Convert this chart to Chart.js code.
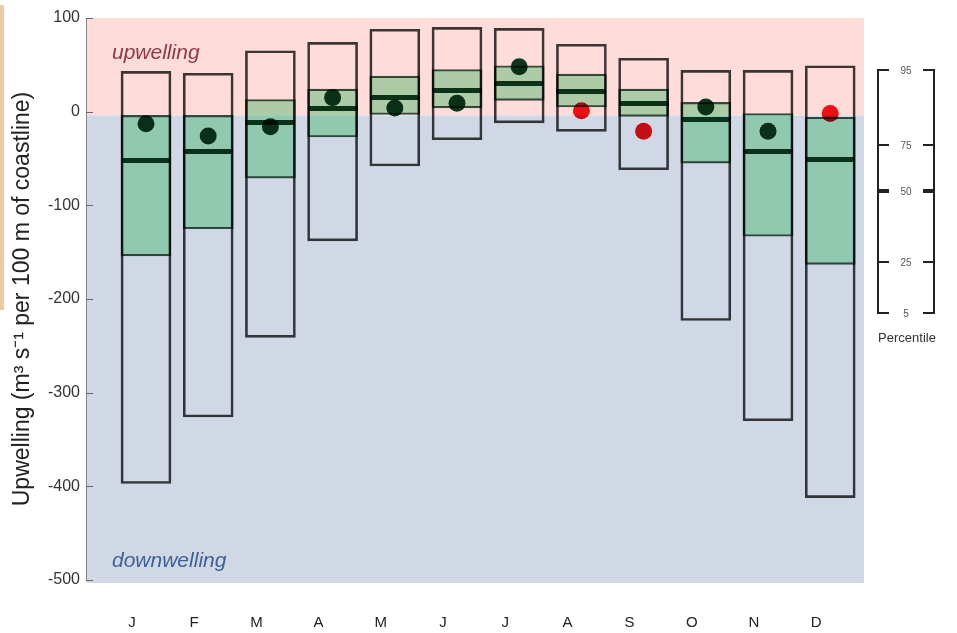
<!DOCTYPE html>
<html>
<head>
<meta charset="utf-8">
<script src="https://cdn.jsdelivr.net/npm/chart.js@4.4.0/dist/chart.umd.min.js"></script>
<style>
  body { margin: 0; background: #fff; }
  canvas { display: block; }
</style>
</head>
<body>
<canvas id="upwellingChart" width="957" height="633"></canvas>
<script>
const months = ["J", "F", "M", "A", "M", "J", "J", "A", "S", "O", "N", "D"];
const p95 = [43, 41, 65, 74, 88, 90, 89, 72, 57, 44, 44, 49];
const p75 = [-4, -4, 13, 24, 38, 45, 49, 40, 24, 10, -2, -6];
const p50 = [-52, -42, -12, 3, 15, 23, 30, 22, 9, -8, -43, -51];
const p25 = [-154, -125, -71, -27, -3, 4, 12, 5, -5, -55, -133, -163];
const p5 = [-397, -326, -241, -138, -58, -30, -12, -21, -62, -223, -330, -412];
const thisYear = [-13, -26, -16, 15, 4, 9, 48, 1, -21, 5, -21, -2];
const isRed = [false, false, false, false, false, false, false, true, true, false, false, true];
const yTicks = [100, 0, -100, -200, -300, -400, -500];
const splitValue = -4; // pink/blue boundary
const percentileLabels = ["95", "75", "50", "25", "5"];

const FONT = "'Liberation Sans', Arial, sans-serif";

function pts(arr) {
    return arr.map((v, i) => ({x: i, y: v}));
}
function range(lo, hi) {
    return lo.map((v, i) => ({x: i, y: [v, hi[i]]}));
}

// median marker: a short thick bar as an image so it doesn't inflate layout padding
const medianMark = document.createElement('canvas');
medianMark.width = 50;
medianMark.height = 5;
const mctx = medianMark.getContext('2d');
mctx.fillStyle = '#0e4024';
mctx.fillRect(0, 0, 50, 5);

// background, tan strip, labels
const bgPlugin = {
    id: 'bgPlugin',
    beforeDraw(chart) {
        const ctx = chart.ctx;
        const a = chart.chartArea;
        const ySplit = chart.scales.y.getPixelForValue(splitValue);
        ctx.save();
        ctx.fillStyle = '#edcaa2';
        ctx.fillRect(0, 5, 4, 305);
        ctx.fillStyle = '#fddcd9';
        ctx.fillRect(a.left, a.top, a.right - a.left, ySplit - a.top);
        ctx.fillStyle = '#d1d8e5';
        ctx.fillRect(a.left, ySplit, a.right - a.left, a.bottom + 3 - ySplit);

        ctx.font = 'italic 21px ' + FONT;
        ctx.textAlign = 'left';
        ctx.textBaseline = 'middle';
        ctx.fillStyle = '#8e3a44';
        ctx.fillText('upwelling', a.left + 26, a.top + 35);
        ctx.fillStyle = '#3d5f94';
        ctx.fillText('downwelling', a.left + 26, a.bottom - 19);
        ctx.restore();
    },
    // every mark is blended onto the coloured background
    beforeDatasetDraw(chart) {
        chart.ctx.save();
        chart.ctx.globalCompositeOperation = 'multiply';
    },
    afterDatasetDraw(chart) {
        chart.ctx.restore();
    },
    afterDraw(chart) {
        const ctx = chart.ctx;
        const a = chart.chartArea;
        const ys = chart.scales.y;
        ctx.save();
        // inward tick marks
        ctx.strokeStyle = '#666';
        ctx.lineWidth = 1;
        ys.ticks.forEach(t => {
            const py = Math.round(ys.getPixelForValue(t.value)) + 0.5;
            ctx.beginPath();
            ctx.moveTo(a.left, py);
            ctx.lineTo(a.left + 7, py);
            ctx.stroke();
        });

        // percentile key
        const lx = a.right + 14, rx = a.right + 70, cx = (lx + rx) / 2;
        const ky = [a.top + 52, a.top + 127, a.top + 173, a.top + 244, a.top + 295];
        ctx.strokeStyle = '#222';
        ctx.lineWidth = 2;
        ctx.beginPath();
        ctx.moveTo(lx + 11, ky[0]); ctx.lineTo(lx, ky[0]); ctx.lineTo(lx, ky[4]); ctx.lineTo(lx + 11, ky[4]);
        ctx.moveTo(rx - 11, ky[0]); ctx.lineTo(rx, ky[0]); ctx.lineTo(rx, ky[4]); ctx.lineTo(rx - 11, ky[4]);
        ctx.stroke();
        for (let i = 1; i < 4; i++) {
            ctx.lineWidth = i === 2 ? 4 : 2;
            ctx.beginPath();
            ctx.moveTo(lx, ky[i]); ctx.lineTo(lx + 11, ky[i]);
            ctx.moveTo(rx - 11, ky[i]); ctx.lineTo(rx, ky[i]);
            ctx.stroke();
        }
        ctx.fillStyle = '#555';
        ctx.font = '10px ' + FONT;
        ctx.textAlign = 'center';
        ctx.textBaseline = 'middle';
        percentileLabels.forEach((t, i) => ctx.fillText(t, cx, ky[i] + 1));
        ctx.fillStyle = '#333';
        ctx.font = '13px ' + FONT;
        ctx.fillText('Percentile', cx + 1, a.top + 320);
        ctx.restore();
    }
};

const ctx = document.getElementById('upwellingChart').getContext('2d');
new Chart(ctx, {
    type: 'bar',
    data: {
        datasets: [
            {
                type: 'line',
                label: 'This year',
                data: pts(thisYear),
                showLine: false,
                pointRadius: 8.5,
                pointHoverRadius: 8.5,
                pointBackgroundColor: isRed.map(r => r ? '#f01018' : '#0e3d23'),
                pointBorderWidth: 0,
                order: 0
            },
            {
                type: 'line',
                label: 'Median',
                data: pts(p50),
                showLine: false,
                pointStyle: medianMark,
                pointRadius: 2,
                pointHoverRadius: 2,
                pointBorderWidth: 0,
                order: 1
            },
            {
                label: '5-95',
                data: range(p5, p95),
                backgroundColor: 'rgba(0,0,0,0)',
                borderColor: '#3d3d3d',
                borderWidth: 2,
                borderSkipped: false,
                barThickness: 50,
                grouped: false,
                order: 2
            },
            {
                label: 'IQR',
                data: range(p25, p75),
                backgroundColor: '#b0ecc4',
                borderColor: '#3a5446',
                borderWidth: 1.5,
                borderSkipped: false,
                barThickness: 50,
                grouped: false,
                order: 3
            }
        ]
    },
    options: {
        responsive: false,
        animation: false,
        events: [],
        layout: {padding: {top: 18, right: 93, bottom: 0, left: 0}},
        plugins: {
            legend: {display: false},
            tooltip: {enabled: false}
        },
        scales: {
            x: {
                type: 'linear',
                offset: false,
                min: -0.9646,
                max: 11.543,
                afterFit(s) { s.height = 53; },
                afterBuildTicks(s) { s.ticks = months.map((m, i) => ({value: i})); },
                grid: {display: false, drawTicks: false},
                border: {display: false},
                ticks: {
                    autoSkip: false,
                    maxRotation: 0,
                    padding: 34,
                    labelOffset: -14,
                    color: '#222',
                    font: {family: FONT, size: 15},
                    callback: (v) => months[v]
                }
            },
            y: {
                min: -500,
                max: 100,
                afterFit(s) { s.width = 86; },
                afterBuildTicks(s) { s.ticks = yTicks.map(v => ({value: v})); },
                grid: {drawOnChartArea: false, drawTicks: false},
                border: {display: true, color: '#888', width: 1},
                ticks: {
                    padding: 6,
                    color: '#333',
                    font: {family: FONT, size: 16}
                },
                title: {
                    display: true,
                    text: 'Upwelling (m³ s⁻¹ per 100 m of coastline)',
                    color: '#222',
                    font: {family: FONT, size: 23},
                    padding: {top: 9, bottom: 0}
                }
            }
        }
    },
    plugins: [bgPlugin]
});
</script>
</body>
</html>
